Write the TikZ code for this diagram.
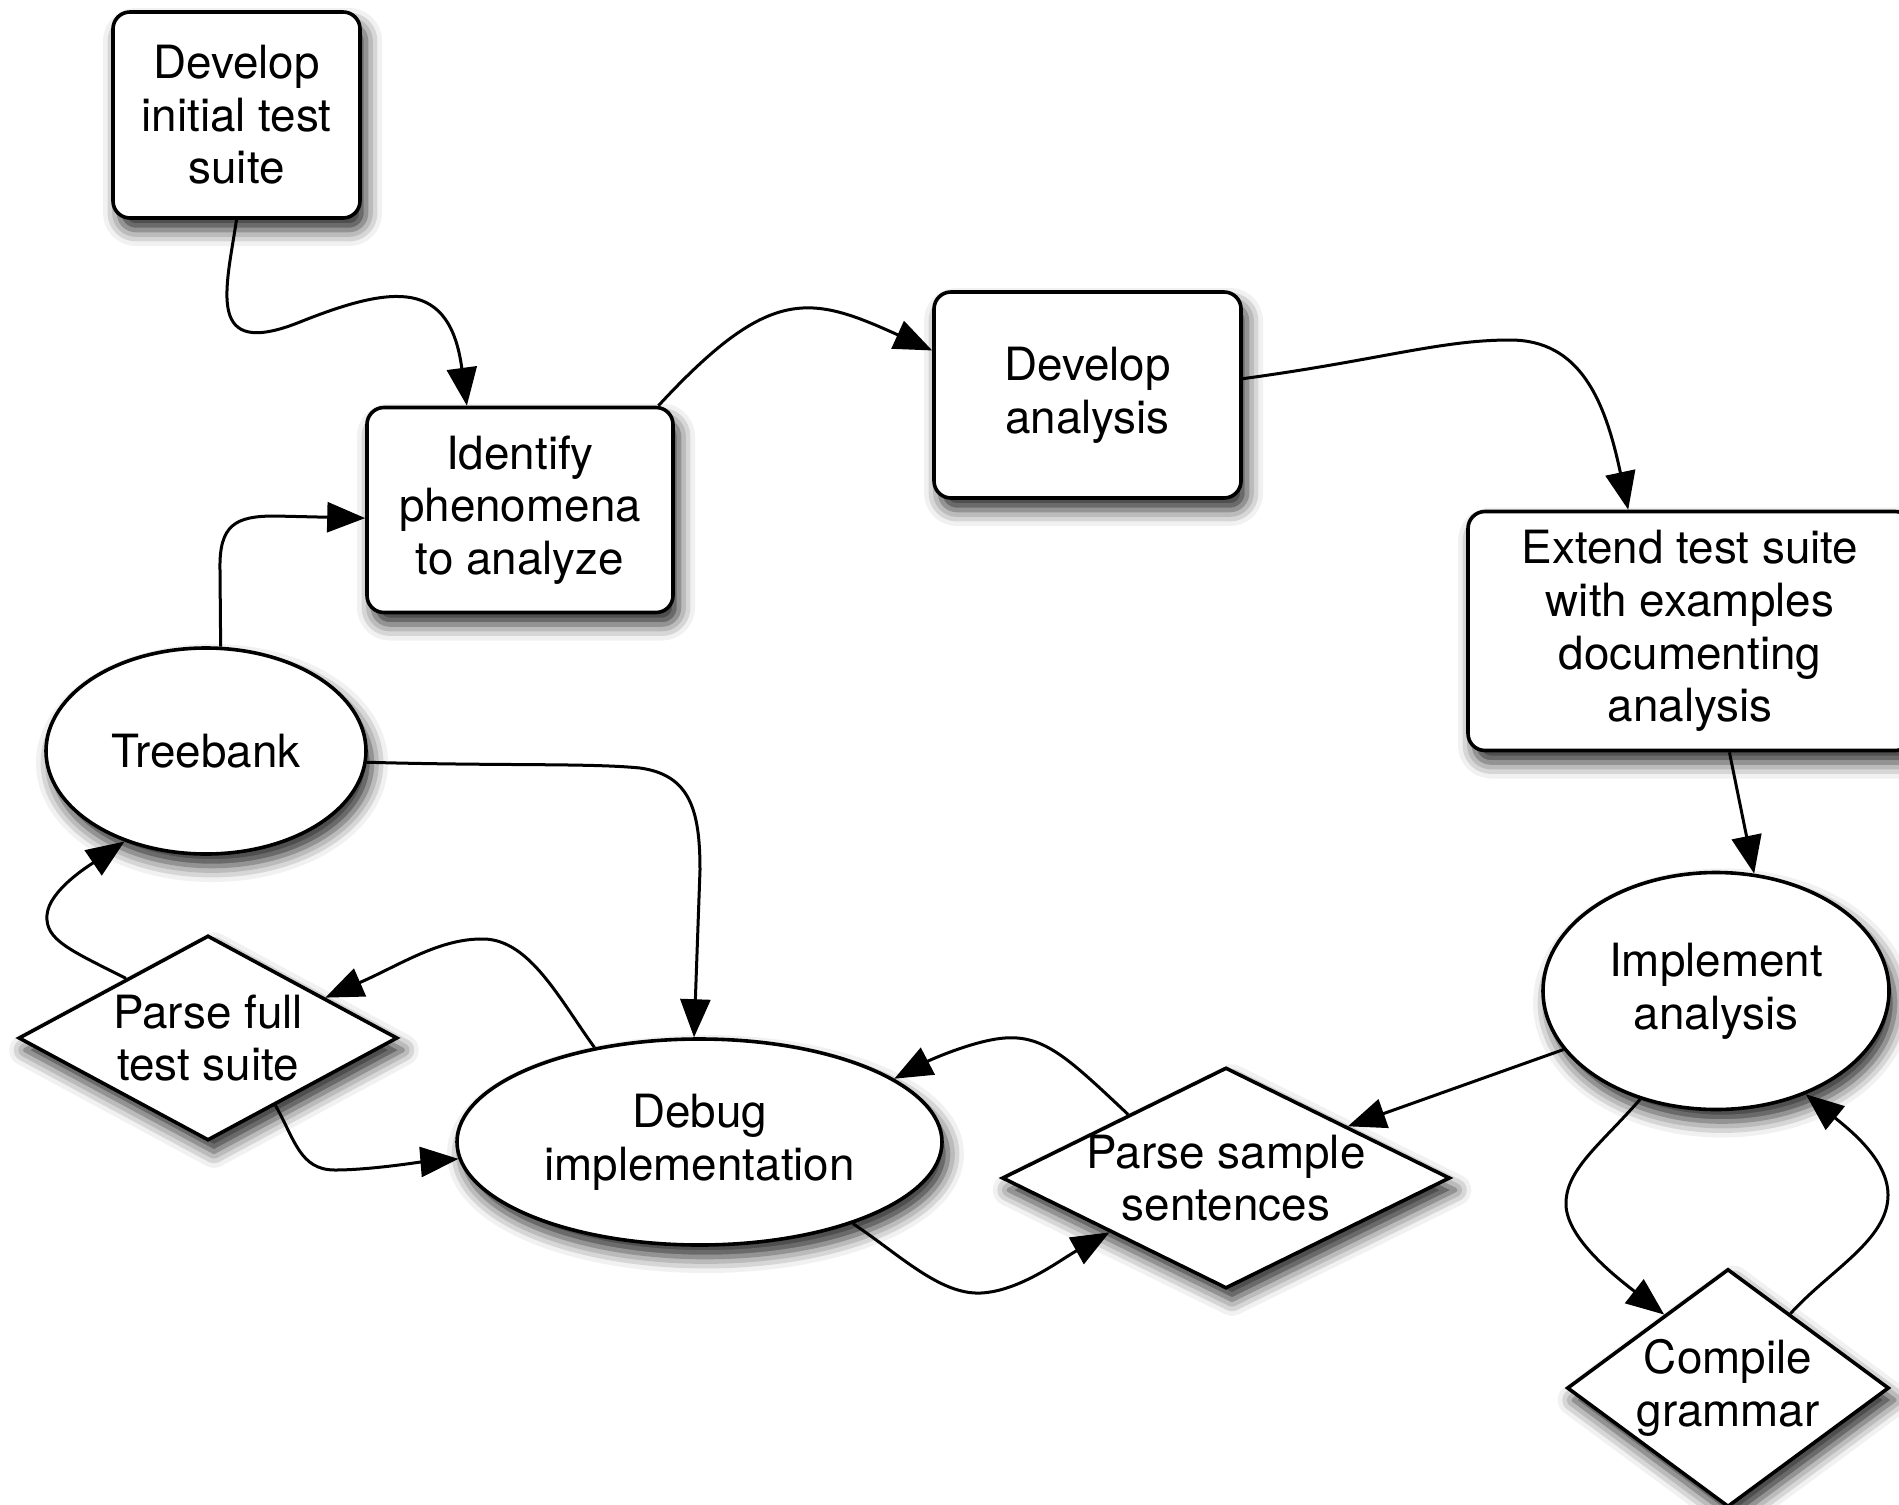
\documentclass[tikz,border=0pt]{standalone}
\usepackage{fontspec}
\setmainfont{TeX Gyre Heros}
\usetikzlibrary{shapes.geometric,arrows.meta,shadows.blur}
\begin{document}
\begin{tikzpicture}[x=0.5pt,y=-0.5pt,
  font=\fontsize{22.9pt}{26.3pt}\selectfont,
  shad/.style={blur shadow={shadow xshift=3pt,shadow yshift=-6pt,shadow blur radius=8pt,shadow opacity=85}},
  box/.style={draw,line width=1.8pt,fill=white,rounded corners=8.5pt,align=center,inner sep=0pt,shad},
  oval/.style={ellipse,draw,line width=1.8pt,fill=white,align=center,inner sep=0pt,shad},
  dia/.style={diamond,draw,line width=1.8pt,fill=white,inner sep=0pt,shad},
  lbl/.style={align=center,inner sep=0pt},
  conn/.style={line width=1.5pt,-{Triangle[length=19pt,width=15pt]}}]
\useasboundingbox (0,0) rectangle (1899,1504);

\node[box,minimum width=123.5pt,minimum height=103pt] (dits) at (236.5,115) {Develop\\initial test\\suite};
\node[box,minimum width=153pt,minimum height=102.5pt] (ip) at (520,510) {Identify\\phenomena\\to analyze};
\node[box,minimum width=153.5pt,minimum height=103pt] (da) at (1087.5,395) {Develop\\analysis};
\node[box,minimum width=222pt,minimum height=119.5pt] (ext) at (1690,631) {Extend test suite\\with examples\\documenting\\analysis};
\node[oval,minimum width=160pt,minimum height=103pt] (tb) at (206,751) {Treebank};
\node[dia,minimum width=189.5pt,minimum height=102.5pt] (pf) at (208,1038) {};
\node[lbl] (pft) at (pf) {Parse full\\test suite};
\node[oval,minimum width=242.5pt,minimum height=103pt] (di) at (699.5,1142) {Debug\\implementation};
\node[dia,minimum width=224pt,minimum height=110.5pt] (ps) at (1226,1178) {};
\node[lbl] (pst) at (ps) {Parse sample\\sentences};
\node[oval,minimum width=173pt,minimum height=118.5pt] (ia) at (1716,991) {Implement\\analysis};
\node[dia,minimum width=161pt,minimum height=119pt] (cg) at (1728,1388) {};
\node[lbl] (cgt) at (cg) {Compile\\grammar};

% A
\draw[conn] (dits.south) .. controls (226,290) and (205,360) .. (300,322)
  .. controls (395,284) and (450,280) .. (ip.117);
% B
\draw[conn] (ip.37) .. controls (770,285) and (810,295) .. (da.164);
% C
\draw[conn] (da.6) .. controls (1380,360) and (1440,340) .. (1510,340)
  .. controls (1580,340) and (1605,400) .. (ext.117);
% D
\draw[conn] (ext.-72) -- (ia.72);
% E
\draw[conn] (ia.201) -- (ps.23);
% F
\draw[conn] (ia.235) .. controls (1600,1145) and (1565,1170) .. (1566,1205)
  .. controls (1567,1240) and (1620,1280) .. (cg.131);
% G
\draw[conn] (cg.50) .. controls (1830,1270) and (1888,1240) .. (1888,1195)
  .. controls (1888,1160) and (1850,1130) .. (ia.-49);
% H
\draw[conn] (ps.147) .. controls (1070,1060) and (1045,1035) .. (1005,1038)
  .. controls (975,1040) and (930,1060) .. (di.18);
% I
\draw[conn] (di.-28) .. controls (900,1255) and (940,1295) .. (981,1293)
  .. controls (1020,1291) and (1060,1260) .. (ps.205);
% J
\draw[conn] (di.138) .. controls (560,1000) and (530,940) .. (484,939)
  .. controls (440,938) and (400,965) .. (pf.19);
% K
\draw[conn] (pf.-45) .. controls (295,1140) and (300,1170) .. (335,1170)
  .. controls (370,1170) and (420,1162) .. (di.184);
% L
\draw[conn] (tb.-4) .. controls (500,766) and (590,763) .. (640,768)
  .. controls (690,775) and (700,810) .. (700,870) -- (di.93);
% M
\draw[conn] (pf.144) .. controls (70,950) and (45,940) .. (47,915)
  .. controls (49,890) and (90,865) .. (tb.228);
% N
\draw[conn] (tb.82) -- (220,570) .. controls (219,525) and (235,516) .. (275,516) -- (ip.183);
\end{tikzpicture}
\end{document}
